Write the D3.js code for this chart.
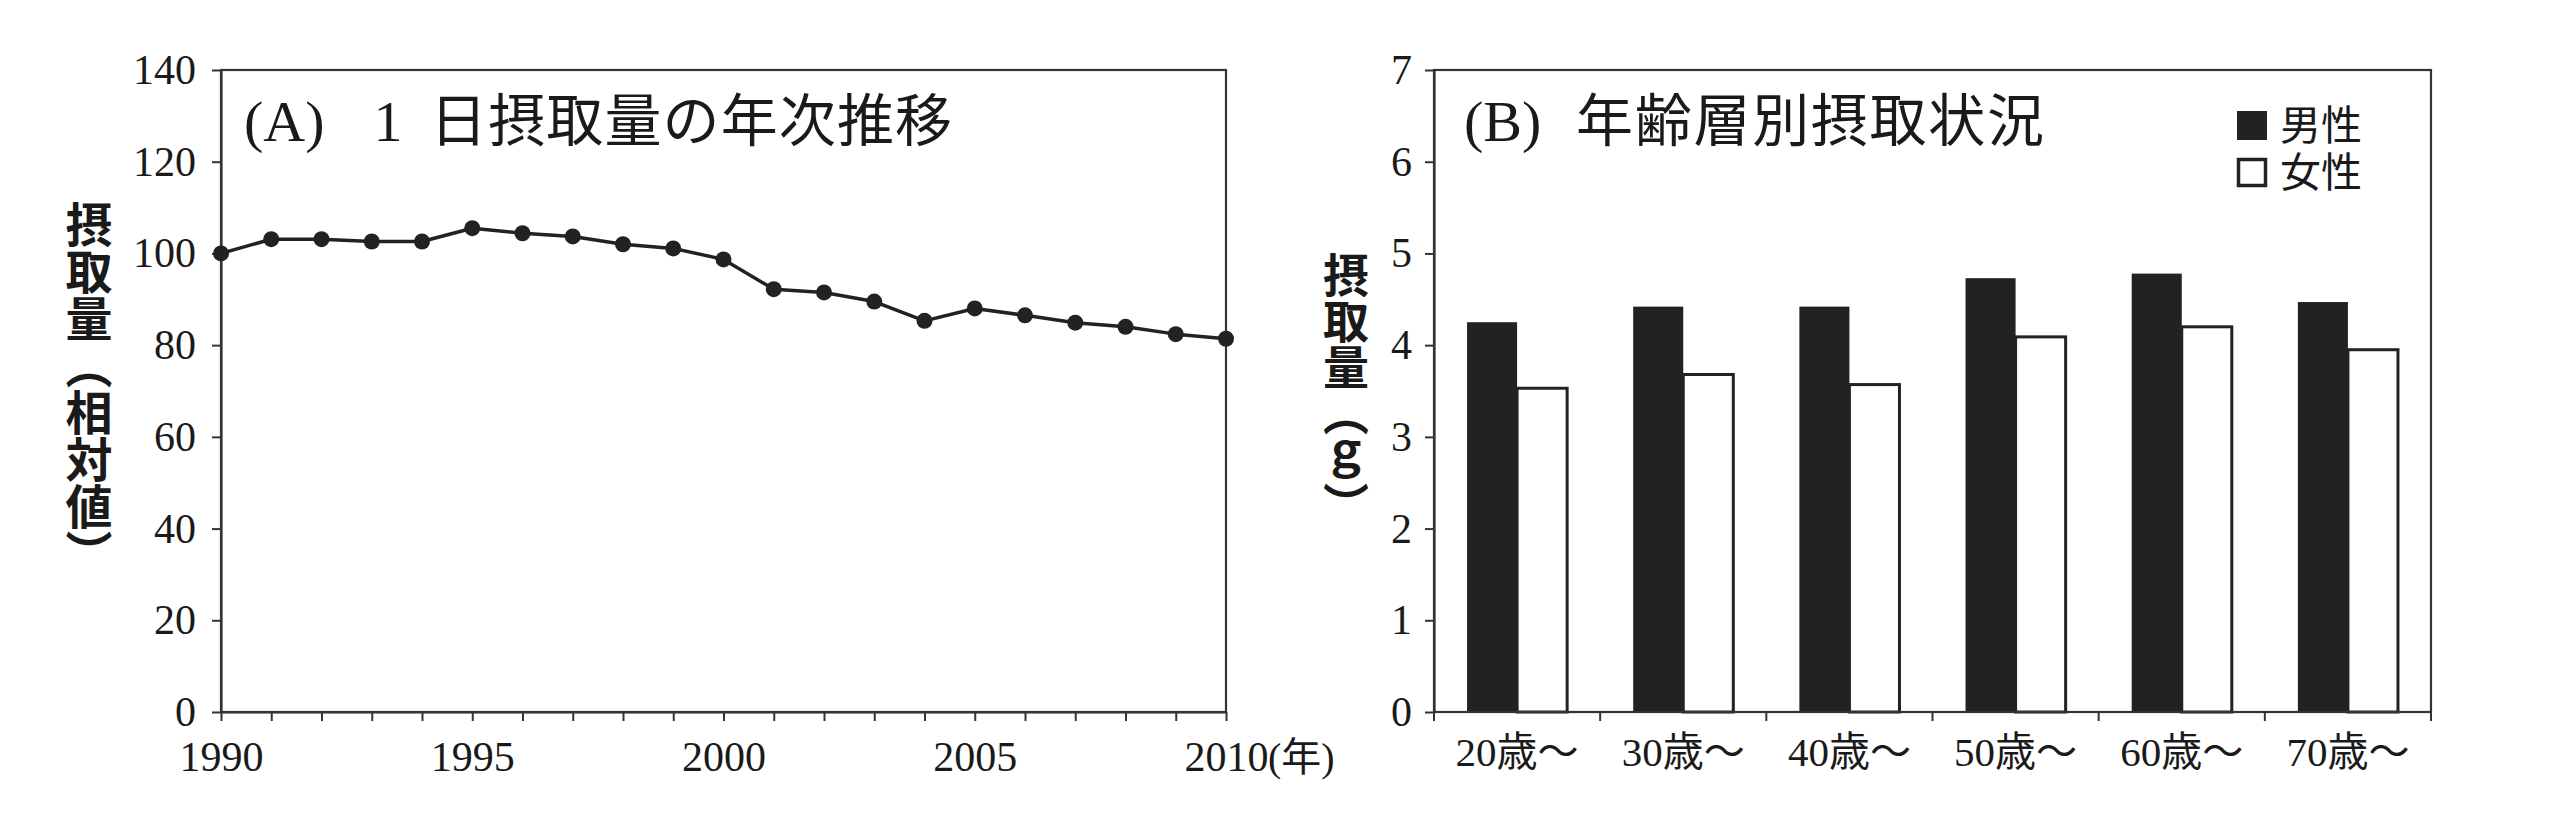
<!DOCTYPE html>
<html><head><meta charset="utf-8">
<script src="https://cdn.jsdelivr.net/npm/d3@7"></script>
<style>
html,body{margin:0;padding:0;background:#fff;}
svg{display:block;}
text{fill:#1a1a1a;}
</style></head>
<body>
<svg id="chart" width="2552" height="826"></svg>
<script>
// ---- Data (A) ----
const years = [1990,1991,1992,1993,1994,1995,1996,1997,1998,1999,2000,2001,2002,2003,2004,2005,2006,2007,2008,2009,2010];
const intake = [100,103.1,103.1,102.6,102.6,105.5,104.4,103.7,102.0,101.1,98.7,92.2,91.5,89.5,85.3,88.0,86.5,84.9,84.0,82.4,81.4];
const yTicksA = [0,20,40,60,80,100,120,140];
const xLabelYearsA = [1990,1995,2000,2005,2010];
// ---- Data (B) ----
const ageGroups = ["20歳～","30歳～","40歳～","50歳～","60歳～","70歳～"];
const sexes = ["男性","女性"];
const male = [4.25,4.42,4.42,4.73,4.78,4.47];
const female = [3.53,3.68,3.57,4.09,4.20,3.95];
const yTicksB = [0,1,2,3,4,5,6,7];

const svg = d3.select("#chart");
const ink = "#222";
const serif = "'Liberation Serif','Noto Sans CJK JP',serif";
const cjk = "'Noto Sans CJK JP',sans-serif";

function styleAxis(g){
  g.selectAll("path.domain").attr("stroke", "#333").attr("stroke-width", 2.2);
  g.selectAll(".tick line").attr("stroke", "#333").attr("stroke-width", 2);
  g.selectAll(".tick text").attr("fill", "#1a1a1a").style("font-family", serif);
}

// ================= Panel A =================
const A = {l:221, r:1226, t:70, b:712};
const xA = d3.scaleLinear().domain([1990,2010]).range([A.l, A.r]);
const yA = d3.scaleLinear().domain([0,140]).range([A.b, A.t]);

svg.append("rect").attr("x",A.l).attr("y",A.t).attr("width",A.r-A.l).attr("height",A.b-A.t)
  .attr("fill","none").attr("stroke","#333").attr("stroke-width",2.2);

const gyA = svg.append("g").attr("transform",`translate(${A.l},0)`)
  .call(d3.axisLeft(yA).tickValues(yTicksA).tickSize(9).tickSizeOuter(0).tickPadding(16));
styleAxis(gyA);
gyA.selectAll(".tick text").style("font-size","42px");

const gxA = svg.append("g").attr("transform",`translate(0,${A.b})`)
  .call(d3.axisBottom(xA).tickValues(years).tickSize(9).tickSizeOuter(0).tickPadding(20)
    .tickFormat(d => xLabelYearsA.includes(d) ? String(d) : ""));
styleAxis(gxA);
gxA.selectAll(".tick text").style("font-size","42px");

svg.append("text").attr("x", xA(2010)+42).attr("y", 771)
  .style("font-family", serif).style("font-size","40px").text("(年)");

const line = d3.line().x((d,i)=>xA(years[i])).y(d=>yA(d));
svg.append("path").datum(intake).attr("d", line).attr("fill","none")
  .attr("stroke", ink).attr("stroke-width", 3.5).attr("stroke-linejoin","round");
svg.append("g").selectAll("circle").data(intake).join("circle")
  .attr("cx",(d,i)=>xA(years[i])).attr("cy",d=>yA(d)).attr("r",8).attr("fill",ink);

const tA = svg.append("g");
tA.append("text").attr("x",244).attr("y",141).style("font-family",serif).style("font-size","58px").text("(A)");
tA.append("text").attr("x",388).attr("y",141).attr("text-anchor","middle").style("font-family",serif).style("font-size","58px").text("1");
tA.append("text").attr("x",430).attr("y",141).style("font-family",cjk).style("font-size","57px")
  .attr("textLength",522).attr("lengthAdjust","spacing").text("日摂取量の年次推移");

svg.append("text").attr("x",89).attr("y",389).attr("text-anchor","middle")
  .style("writing-mode","vertical-rl").style("font-family",cjk).style("font-weight",700)
  .style("font-size","47px").text("摂取量（相対値）");

// ================= Panel B =================
const B = {l:1434, r:2431, t:70, b:712};
const xB = d3.scaleBand().domain(ageGroups).range([B.l, B.r]).paddingInner(0).paddingOuter(0);
const xSex = d3.scaleBand().domain(sexes).range([0, xB.bandwidth()]).paddingInner(0).paddingOuter(0.66);
const yB = d3.scaleLinear().domain([0,7]).range([B.b, B.t]);

svg.append("rect").attr("x",B.l).attr("y",B.t).attr("width",B.r-B.l).attr("height",B.b-B.t)
  .attr("fill","none").attr("stroke","#333").attr("stroke-width",2.2);

const rows = ageGroups.map((a,i)=>({age:a, values:[{sex:"男性",v:male[i]},{sex:"女性",v:female[i]}]}));
const grp = svg.append("g").selectAll("g").data(rows).join("g")
  .attr("transform", d=>`translate(${xB(d.age)},0)`);
grp.selectAll("rect").data(d=>d.values).join("rect")
  .attr("x", d=>xSex(d.sex)).attr("width", xSex.bandwidth())
  .attr("y", d=>yB(d.v)).attr("height", d=>yB(0)-yB(d.v))
  .attr("fill", d=>d.sex==="男性"? ink : "#fff")
  .attr("stroke", d=>d.sex==="男性"? "none" : ink)
  .attr("stroke-width", 3);

const gyB = svg.append("g").attr("transform",`translate(${B.l},0)`)
  .call(d3.axisLeft(yB).tickValues(yTicksB).tickSize(9).tickSizeOuter(0).tickPadding(13).tickFormat(d3.format("d")));
styleAxis(gyB);
gyB.selectAll(".tick text").style("font-size","42px");

// category boundary ticks
const edges = ageGroups.map(a=>xB(a)).concat([B.r]);
const gxB = svg.append("g").attr("transform",`translate(0,${B.b})`);
gxB.append("line").attr("x1",B.l).attr("x2",B.r).attr("stroke","#333").attr("stroke-width",2.2);
gxB.selectAll("line.tk").data(edges).join("line").attr("class","tk")
  .attr("x1",d=>d).attr("x2",d=>d).attr("y1",0).attr("y2",9).attr("stroke","#333").attr("stroke-width",2);
gxB.selectAll("text").data(ageGroups).join("text")
  .attr("x", d=>xB(d)+xB.bandwidth()/2).attr("y", 54).attr("text-anchor","middle")
  .style("font-family", serif).style("font-size","41px").text(d=>d);

const tB = svg.append("g");
tB.append("text").attr("x",1464).attr("y",141).style("font-family",serif).style("font-size","58px").text("(B)");
tB.append("text").attr("x",1576).attr("y",141).style("font-family",cjk).style("font-size","57px")
  .attr("textLength",468).attr("lengthAdjust","spacing").text("年齢層別摂取状況");

// legend
const leg = svg.append("g");
const legY = [111, 158];
leg.selectAll("rect").data(sexes).join("rect")
  .attr("x", (d,i)=> i===0 ? 2237 : 2238.5).attr("y",(d,i)=> i===0 ? legY[i] : legY[i]+1.5)
  .attr("width",(d,i)=> i===0 ? 30 : 27).attr("height",(d,i)=> i===0 ? 29 : 26)
  .attr("fill",(d,i)=>i===0?ink:"#fff").attr("stroke",(d,i)=>i===0?"none":ink).attr("stroke-width",3.5);
leg.selectAll("text").data(sexes).join("text")
  .attr("x",2280).attr("y",(d,i)=>legY[i]+29).style("font-family",cjk).style("font-size","41px").text(d=>d);

svg.append("text").attr("x",1346).attr("y",390).attr("text-anchor","middle")
  .style("writing-mode","vertical-rl").style("font-family",cjk).style("font-weight",700)
  .style("font-size","46px").text("摂取量（ｇ）");
</script>
</body></html>
